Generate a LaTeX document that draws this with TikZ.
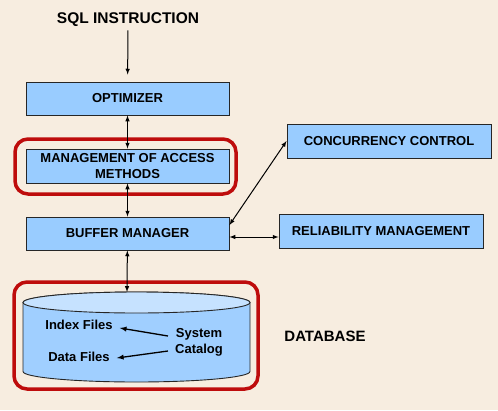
\documentclass[tikz,border=0pt]{standalone}
\usepackage{fontspec}
\setmainfont{Liberation Sans}
\usetikzlibrary{arrows,positioning,calc}

\definecolor{bgcream}{RGB}{247,237,224}
\definecolor{boxblue}{RGB}{153,204,255}
\definecolor{cylside}{RGB}{160,207,255}
\definecolor{cyltop}{RGB}{198,226,255}
\definecolor{framered}{RGB}{190,12,12}

\tikzset{
  modbox/.style={fill=boxblue, draw=black!85, line width=0.9pt, minimum width=203pt, minimum height=33pt, inner sep=2pt, align=center, font=\fontsize{13}{16}\selectfont\bfseries},
  redframe/.style={draw=framered, line width=3.5pt, rounded corners=13pt},
  lbl/.style={font=\fontsize{13}{16}\selectfont\bfseries, align=center, inner sep=3pt},
  conn/.style={line width=1pt, >=latex}
}

\begin{document}
\begin{tikzpicture}[x=1pt, y=-1pt]
  \fill [bgcream] (0,0) rectangle (498,410);
  \useasboundingbox (0,0) rectangle (498,410);

  \node (sql) [font=\fontsize{15.5}{18}\selectfont\bfseries] at (128,20) {SQL INSTRUCTION};
  \node (opt) [modbox] at (127.5,98.5) {OPTIMIZER};
  \node (mam) [modbox, minimum height=34pt] at (127.5,166) {MANAGEMENT OF ACCESS\\METHODS};
  \node (buf) [modbox] at (127.5,233.5) {BUFFER MANAGER};
  \node (cc) [modbox, minimum width=204pt, minimum height=34pt] at (389,141) {CONCURRENCY CONTROL};
  \node (rel) [modbox, minimum width=204pt, minimum height=34pt] at (381,231) {RELIABILITY MANAGEMENT};

  % highlighted parts
  \draw [redframe] (15,139) rectangle (236,194);
  \draw [redframe] (14,282) rectangle (258,389);

  % database cylinder
  \filldraw [fill=cylside, draw=black!85, line width=0.9pt]
    (23,302.5) -- (23,371.5) arc (180:360:113.5pt and 10.5pt) -- (250,302.5) arc (0:180:113.5pt and 10.5pt) -- cycle;
  \filldraw [fill=cyltop, draw=black!85, line width=0.9pt] (136.5,302.5) ellipse (113.5pt and 10.5pt);
  \coordinate (dbtop) at (127,292);

  \node (idx) [lbl] at (79,325) {Index Files};
  \node (dat) [lbl] at (79,357) {Data Files};
  \node (cat) [lbl] at (199,342) {System\\Catalog};
  \node (dbname) [font=\fontsize{15}{18}\selectfont\bfseries] at (325,336) {DATABASE};

  \path [conn]
  (sql) edge [->, shorten >=7pt] (opt)
  (opt) edge [<->] (mam)
  (mam) edge [<->] (buf)
  (buf) edge [<->] (dbtop)
  ([yshift=8.5pt]buf.east) edge [<->] (cc.west)
  ([yshift=-3.5pt]buf.east) edge [<->] ([yshift=-6pt]rel.west)
  ([yshift=6pt, xshift=-4pt]cat.west) edge [->, line width=1.3pt] ([yshift=-3pt, xshift=4pt]idx.east)
  ([yshift=-9pt, xshift=-4pt]cat.west) edge [->, line width=1.3pt] ([yshift=-1pt, xshift=4pt]dat.east);
\end{tikzpicture}
\end{document}
